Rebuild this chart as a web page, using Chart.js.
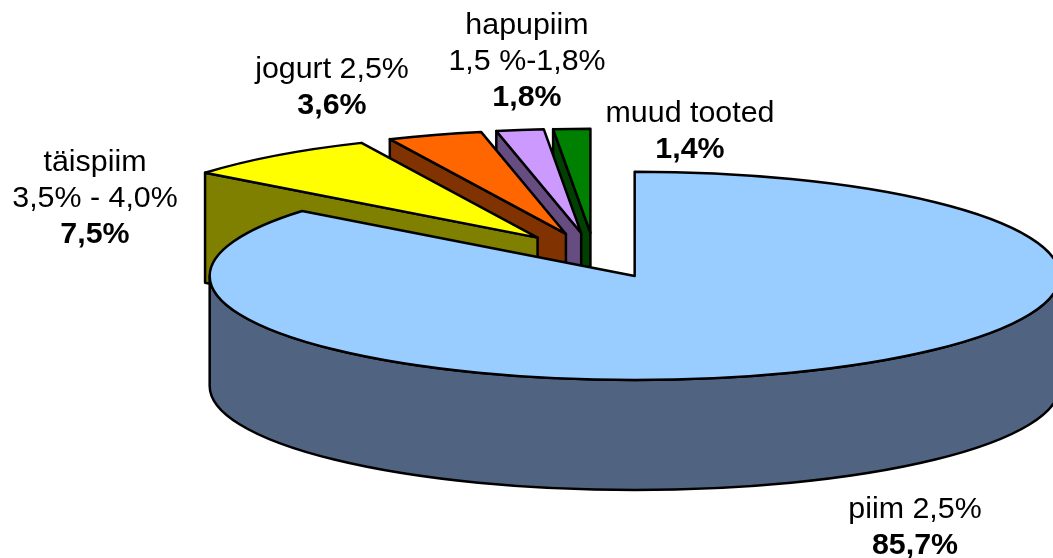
<!DOCTYPE html>
<html>
<head>
<meta charset="utf-8">
<script src="https://cdn.jsdelivr.net/npm/chart.js@4"></script>
<style>
  html, body { margin: 0; padding: 0; background: #fff; }
  canvas { display: block; }
</style>
</head>
<body>
<canvas id="pieChart" width="1053" height="558"></canvas>
<script>
const categories = [
    ["piim 2,5%"],
    ["täispiim", "3,5% - 4,0%"],
    ["jogurt 2,5%"],
    ["hapupiim", "1,5 %-1,8%"],
    ["muud tooted"],
];
const shares = [85.7, 7.5, 3.6, 1.8, 1.4];
const topColors = ["#99CCFF", "#FFFF00", "#FF6600", "#CC99FF", "#008000"];
const sideColors = ["#506482", "#808000", "#803300", "#664C80", "#004000"];

// where each label starts: centre x, first baseline y
const labelAnchors = [[915, 518], [95, 171], [332, 78], [527, 34], [690, 122]];

const tilt = 0.245;   // squash of the pie disc
const depth = 110;    // height of the walls
const explode = 92.5;
const lineHeight = 36;

const drawSlice = (ctx, arc, index) => {
    const rx = arc.outerRadius;
    const ry = rx * tilt;
    const a = arc.startAngle;
    const b = arc.endAngle;
    const mid = (a + b) / 2;
    const cx = arc.x + Math.cos(mid) * arc.options.offset;
    const cy = arc.y + Math.sin(mid) * arc.options.offset * tilt;

    const wall = (t) => {
        ctx.beginPath();
        ctx.moveTo(cx, cy);
        ctx.lineTo(cx + Math.cos(t) * rx, cy + Math.sin(t) * ry);
        ctx.lineTo(cx + Math.cos(t) * rx, cy + Math.sin(t) * ry + depth);
        ctx.lineTo(cx, cy + depth);
        ctx.closePath();
        ctx.fill();
        ctx.stroke();
    };

    ctx.fillStyle = sideColors[index];
    if (Math.cos(a) < 0) wall(a);
    if (Math.cos(b) > 0) wall(b);

    // outer wall, only the part on the front half
    const from = Math.max(a, 0);
    const to = Math.min(b, Math.PI);
    if (to > from) {
        ctx.beginPath();
        ctx.ellipse(cx, cy, rx, ry, 0, from, to);
        ctx.ellipse(cx, cy + depth, rx, ry, 0, to, from, true);
        ctx.closePath();
        ctx.fill();
        ctx.stroke();
    }

    ctx.fillStyle = topColors[index];
    ctx.beginPath();
    ctx.moveTo(cx, cy);
    ctx.ellipse(cx, cy, rx, ry, 0, a, b);
    ctx.closePath();
    ctx.fill();
    ctx.stroke();
};

const pie3d = {
    id: "pie3d",
    beforeDatasetsDraw(chart) {
        const ctx = chart.ctx;
        const arcs = chart.getDatasetMeta(0).data;
        ctx.save();
        ctx.strokeStyle = "#000";
        ctx.lineWidth = 2.5;
        ctx.lineJoin = "round";
        // back slices first, the big one last
        for (let i = arcs.length - 1; i >= 0; i--) {
            drawSlice(ctx, arcs[i], i);
        }
        ctx.restore();
        return false;
    },
    afterDraw(chart) {
        const ctx = chart.ctx;
        ctx.save();
        ctx.fillStyle = "#000";
        ctx.textAlign = "center";
        ctx.textBaseline = "alphabetic";
        categories.forEach((lines, i) => {
            const [x, y] = labelAnchors[i];
            ctx.font = "30.4px 'Liberation Sans'";
            lines.forEach((line, n) => ctx.fillText(line, x, y + n * lineHeight));
            ctx.font = "bold 30.4px 'Liberation Sans'";
            const pct = shares[i].toFixed(1).replace(".", ",") + "%";
            ctx.fillText(pct, x, y + lines.length * lineHeight);
        });
        ctx.restore();
    }
};

new Chart(document.getElementById("pieChart"), {
    type: "pie",
    data: {
        labels: categories.map(lines => lines.join(" ")),
        datasets: [{
            data: shares,
            backgroundColor: topColors,
            offset: explode,
        }]
    },
    options: {
        responsive: false,
        animation: false,
        events: [],
        radius: 425,
        layout: { padding: { left: 136, bottom: 47 } },
        plugins: { legend: { display: false }, tooltip: { enabled: false } },
    },
    plugins: [pie3d],
});
</script>
</body>
</html>
